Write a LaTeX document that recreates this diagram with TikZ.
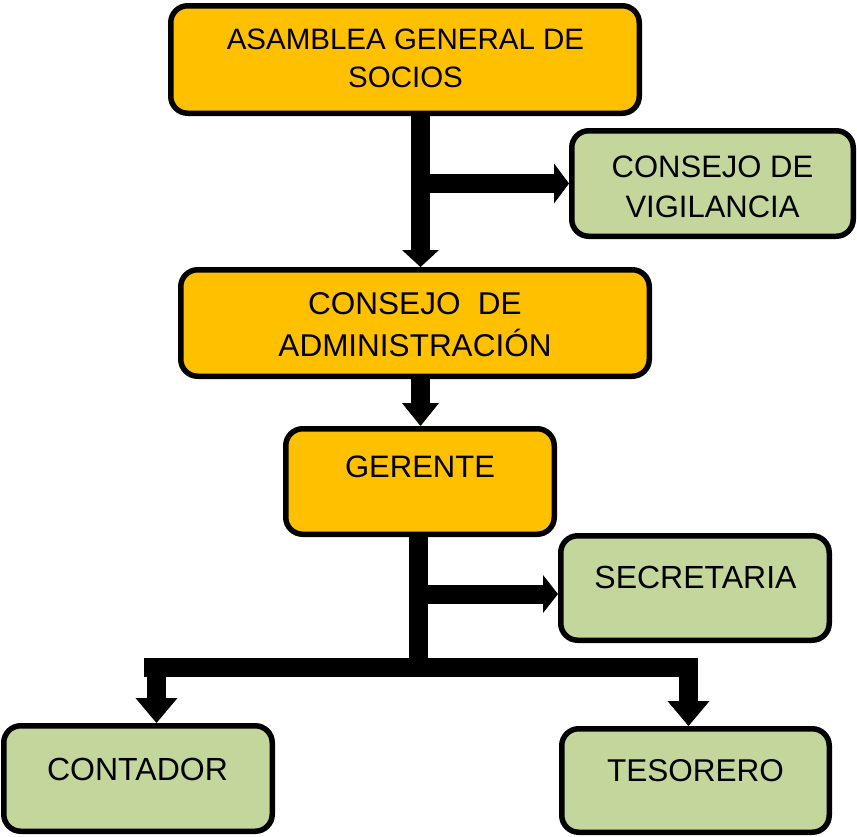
\documentclass[tikz,border=0pt]{standalone}
\usepackage{fontspec}
\setmainfont{Liberation Sans}
\usetikzlibrary{arrows.meta}
\definecolor{boxorange}{HTML}{FFC000}
\definecolor{boxgreen}{HTML}{C3D69B}
\newcommand{\twolines}[3]{\vtop{\baselineskip=#3pt\lineskiplimit=-100pt\lineskip=0pt\halign{\hfil##\hfil\cr #1\cr #2\cr}}}
\newcommand{\fsz}[1]{\fontsize{#1}{36}\selectfont}
\tikzset{
  basebox/.style={draw=black, line width=5.5pt, rounded corners=17pt, inner sep=0pt},
  obox/.style={basebox, fill=boxorange},
  gbox/.style={basebox, fill=boxgreen},
  lbl/.style={anchor=base, inner sep=0pt, font=\fsz{31.5}},
  shaft/.style={draw=black, line width=19pt, line cap=butt},
}
\begin{document}
\begin{tikzpicture}[x=1pt,y=-1pt]
\useasboundingbox (0,0) rectangle (857,836);
% boxes
\node[obox, minimum width=468.5pt, minimum height=107.5pt] (B1) at (405,59.5) {};
\node[gbox, minimum width=281.5pt, minimum height=105.5pt] (B2) at (712.5,183.5) {};
\node[obox, minimum width=468.5pt, minimum height=106.5pt] (B3) at (415,323) {};
\node[obox, minimum width=268.5pt, minimum height=105.5pt] (B4) at (420,481.5) {};
\node[gbox, minimum width=268.5pt, minimum height=104.5pt] (B5) at (695,588) {};
\node[gbox, minimum width=268.5pt, minimum height=105.5pt] (B6) at (138,778.5) {};
\node[gbox, minimum width=267.5pt, minimum height=103.5pt] (B7) at (695.5,780.5) {};
% labels
\node[lbl, font=\fsz{29.5}] (t1) at (405.5,49.5) {\twolines{ASAMBLEA GENERAL DE}{SOCIOS}{37.5}};
\node[lbl, font=\fsz{31}] (t2) at (712.5,177) {\twolines{CONSEJO DE}{VIGILANCIA}{40}};
\node[lbl, font=\fsz{31.5}] (t3) at (415,314) {\twolines{CONSEJO\ \ DE}{ADMINISTRACIÓN}{42.5}};
\node[lbl, font=\fsz{31}] (t4) at (420,477.5) {GERENTE};
\node[lbl, font=\fsz{32}] (t5) at (695.5,588) {SECRETARIA};
\node[lbl, font=\fsz{32}] (t6) at (137.5,780) {CONTADOR};
\node[lbl, font=\fsz{31.5}] (t7) at (695.5,781) {TESORERO};
% junctions
\coordinate (jv) at (420.5,183.5);
\coordinate (js) at (418,594);
\coordinate (bm) at (418,667.5);
\coordinate (bl) at (156.5,667.5);
\coordinate (br) at (688.5,667.5);
% connectors
\draw[shaft, -{Triangle[width=37pt,length=17pt,line width=0pt]}] (B1.south -| jv) -- (B3.north -| jv);
\draw[shaft, -{Triangle[width=40pt,length=15pt,line width=0pt]}] (jv) -- (B2.west);
\draw[shaft, -{Triangle[width=37pt,length=23pt,line width=0pt]}] (B3.south -| jv) -- (B4.north -| jv);
\draw[shaft] (B4.south -| js) -- (bm);
\draw[shaft, -{Triangle[width=38pt,length=15pt,line width=0pt]}] (js) -- (js -| B5.west);
\draw[shaft] ([xshift=-12.5pt]bl) -- ([xshift=9.5pt]br);
\draw[shaft, -{Triangle[width=42pt,length=25pt,line width=0pt]}] (bl) -- (B6.north -| bl);
\draw[shaft, -{Triangle[width=42pt,length=25pt,line width=0pt]}] (br) -- (B7.north -| br);
\end{tikzpicture}
\end{document}
